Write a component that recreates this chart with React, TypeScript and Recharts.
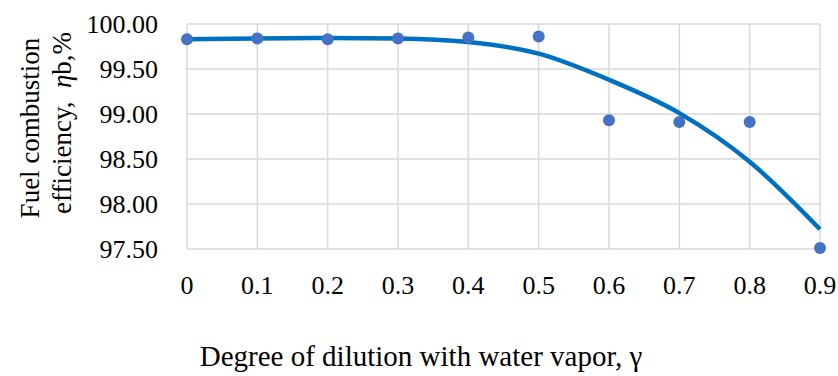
import React from 'react'
import {
  ComposedChart,
  Line,
  Scatter,
  XAxis,
  YAxis,
  CartesianGrid,
} from 'recharts'

const dilution = [0, 0.1, 0.2, 0.3, 0.4, 0.5, 0.6, 0.7, 0.8, 0.9]
const efficiency = [99.83, 99.84, 99.83, 99.84, 99.85, 99.86, 98.93, 98.91, 98.91, 97.51]
// polynomial trendline
const trend = [99.83, 99.84, 99.845, 99.84, 99.8, 99.67, 99.38, 99.01, 98.47, 97.72]
const yTicks = [97.5, 98, 98.5, 99, 99.5, 100]

const data = dilution.map((x, i) => ({ x, eff: efficiency[i], trend: trend[i] }))

const FONT = '"Liberation Serif", serif'

const YTitle = () => (
  <g fontFamily={FONT} fontSize={27} fill="#000">
    <text x={39} y={128} transform="rotate(-90, 39, 128)" textAnchor="middle">
      Fuel combustion
    </text>
    <text x={71} y={123} transform="rotate(-90, 71, 123)" textAnchor="middle">
      efficiency,{'\u00a0\u00a0'}
      <tspan fontStyle="italic">η</tspan>b,%
    </text>
  </g>
)

const XTitle = () => (
  <text x={421} y={366} textAnchor="middle" fontFamily={FONT} fontSize={29} fill="#000">
    Degree of dilution with water vapor, γ
  </text>
)

const Dot = (props: any) => <circle cx={props.cx} cy={props.cy} r={6} fill="#4472C4" />

const XTick = ({ x, y, payload }: any) => (
  <text x={x} y={y + 9} textAnchor="middle" fontFamily={FONT} fontSize={26} fill="#000">
    {payload.value === 0 ? '0' : payload.value.toFixed(1)}
  </text>
)

const YTick = ({ x, y, payload }: any) => (
  <text x={x} y={y + 9} textAnchor="end" fontFamily={FONT} fontSize={26} fill="#000">
    {payload.value.toFixed(2)}
  </text>
)

export default function App() {
  return (
    <div style={{ position: 'absolute', left: 0, top: 0, background: '#fff' }}>
      <ComposedChart
        width={838}
        height={376}
        data={data}
        margin={{ top: 24, right: 18, bottom: 0, left: 0 }}
      >
        <CartesianGrid stroke="#d9d9d9" strokeWidth={1.5} />
        <XAxis
          dataKey="x"
          type="number"
          domain={[0, 0.9]}
          ticks={dilution}
          axisLine={false}
          tickLine={false}
          tickSize={0}
          tickMargin={36}
          height={127}
          tick={<XTick />}
          label={<XTitle />}
        />
        <YAxis
          type="number"
          domain={[97.5, 100]}
          ticks={yTicks}
          axisLine={false}
          tickLine={false}
          tickSize={0}
          tickMargin={29}
          width={187}
          tick={<YTick />}
          label={<YTitle />}
        />
        <Line
          dataKey="trend"
          type="monotone"
          stroke="#0070C0"
          strokeWidth={4.5}
          dot={false}
          activeDot={false}
          isAnimationActive={false}
        />
        <Scatter dataKey="eff" fill="#4472C4" shape={<Dot />} isAnimationActive={false} />
      </ComposedChart>
    </div>
  )
}
